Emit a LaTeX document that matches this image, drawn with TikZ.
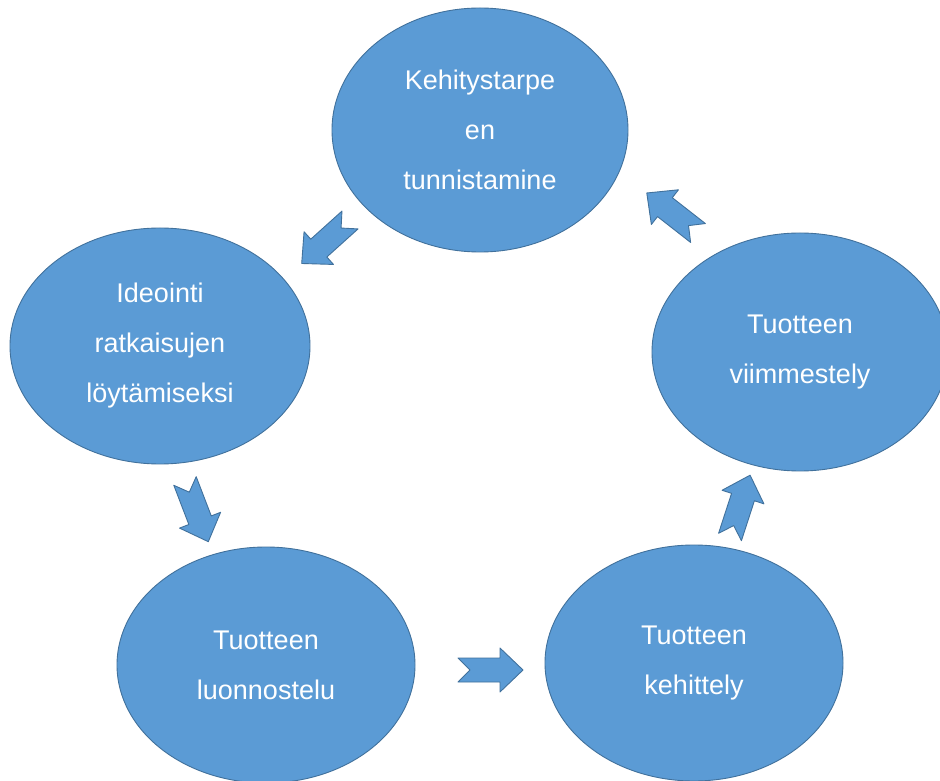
\documentclass[tikz,border=0pt]{standalone}
\usepackage{fontspec}
\setmainfont{Liberation Sans}
\usetikzlibrary{shapes.geometric}
\definecolor{blobfill}{HTML}{5B9BD5}
\definecolor{blobline}{HTML}{41719C}
\begin{document}
\begin{tikzpicture}[x=1pt,y=1pt,
  blob/.style={ellipse, fill=blobfill, draw=blobline, line width=0.9pt,
    inner sep=0pt, align=center, text=white,
    font=\fontsize{27}{50}\selectfont},
  blockarrow/.pic={
    \path[fill=blobfill, draw=blobline, line width=0.9pt, line join=round]
      (0,12) -- (42,12) -- (42,22) -- (65,0) -- (42,-22) -- (42,-12)
      -- (0,-12) -- (12,0) -- cycle;
  }]
\useasboundingbox (0,0) rectangle (940,780);
\fill[white] (0,0) rectangle (940,780);

\node[blob, minimum width=296pt, minimum height=244pt] (tunn) at (480,650)
  {Kehitystarpe\\en\\tunnistamine};
\node[blob, minimum width=300pt, minimum height=236pt] (idea) at (160,434)
  {Ideointi\\ratkaisujen\\löytämiseksi};
\node[blob, minimum width=296pt, minimum height=238pt] (viim) at (800,428)
  {Tuotteen\\viimmestely};
\node[blob, minimum width=298pt, minimum height=236pt] (luon) at (266,115)
  {Tuotteen\\luonnostelu};
\node[blob, minimum width=298pt, minimum height=236pt] (kehi) at (694,117)
  {Tuotteen\\kehittely};

\pic[rotate=222] (a1) at (350,560) {blockarrow};
\pic[rotate=-69] (a2) at (185,299) {blockarrow};
\pic[rotate=0]   (a3) at (458,110) {blockarrow};
\pic[rotate=72]  (a4) at (730,243) {blockarrow};
\pic[rotate=142] (a5) at (698,547) {blockarrow};
\end{tikzpicture}
\end{document}
